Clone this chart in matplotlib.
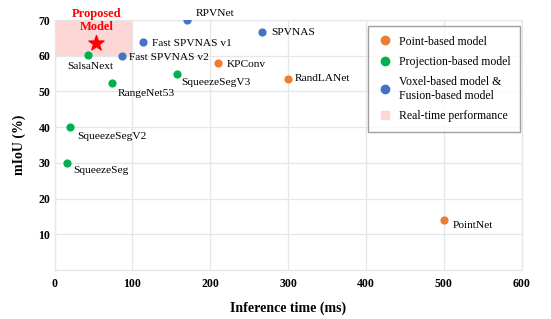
import matplotlib
matplotlib.use("Agg")
import matplotlib.pyplot as plt
from matplotlib.patches import Rectangle
from matplotlib.lines import Line2D

plt.rcParams['font.family'] = ['Liberation Serif', 'DejaVu Serif']

point_names = ["PointNet", "RandLANet", "KPConv"]
point_x = [500, 300, 210]
point_y = [14.0, 53.6, 57.9]

proj_names = ["SalsaNext", "RangeNet53", "SqueezeSegV3", "SqueezeSegV2", "SqueezeSeg"]
proj_x = [42.7, 73.7, 157.6, 20, 16.3]
proj_y = [60.2, 52.5, 54.9, 40.1, 30.0]

vox_names = ["RPVNet", "SPVNAS", "Fast SPVNAS v1", "Fast SPVNAS v2"]
vox_x = [170, 267, 114, 86.5]
vox_y = [70.0, 66.8, 63.8, 60.0]

proposed_x = [53.8]
proposed_y = [63.5]

xticks = [0, 100, 200, 300, 400, 500, 600]
yticks = [10, 20, 30, 40, 50, 60, 70]

c_point = "#ED7D31"
c_proj = "#00B050"
c_vox = "#4472C4"
c_rt = "#fdd6d6"

fig = plt.figure(figsize=(5.51, 3.19), dpi=100)
ax = fig.add_axes([0.099, 0.154, 0.848, 0.783])
ax.set_xlim(0, 600)
ax.set_ylim(0, 70)

ax.add_patch(Rectangle((0, 60), 100, 10, facecolor=c_rt, edgecolor="none", zorder=1))

ax.scatter(point_x, point_y, s=24, color=c_point, zorder=3)
ax.scatter(proj_x, proj_y, s=24, color=c_proj, zorder=3)
ax.scatter(vox_x, vox_y, s=24, color=c_vox, zorder=3)
ax.scatter(proposed_x, proposed_y, s=130, marker="*", color="red", zorder=4)

fs = 8.2
# label offsets in points
offsets = {
    "PointNet": (6, -4, "left", "center"),
    "RandLANet": (5, 0, "left", "center"),
    "KPConv": (6, -1, "left", "center"),
    "SalsaNext": (-15, -5, "left", "top"),
    "RangeNet53": (4, -5, "left", "top"),
    "SqueezeSegV3": (3, -3, "left", "top"),
    "SqueezeSegV2": (5, -3.5, "left", "top"),
    "SqueezeSeg": (4, -2, "left", "top"),
    "RPVNet": (6, 5, "left", "center"),
    "SPVNAS": (6, -1, "left", "center"),
    "Fast SPVNAS v1": (6, -1, "left", "center"),
    "Fast SPVNAS v2": (5, -1, "left", "center"),
}
for names, xs, ys in [(point_names, point_x, point_y), (proj_names, proj_x, proj_y), (vox_names, vox_x, vox_y)]:
    for n, x, y in zip(names, xs, ys):
        dx, dy, ha, va = offsets[n]
        ax.annotate(n, (x, y), xytext=(dx, dy), textcoords="offset points",
                    fontsize=fs, ha=ha, va=va, zorder=5)

ax.annotate("Proposed\nModel", (proposed_x[0], proposed_y[0]), xytext=(0, 7.5),
            textcoords="offset points", ha="center", va="bottom", color="red",
            fontweight="bold", fontsize=9, linespacing=1.1, annotation_clip=False)

ax.set_xticks(xticks)
ax.set_yticks(yticks)
for lab in ax.get_xticklabels() + ax.get_yticklabels():
    lab.set_fontweight("bold")
    lab.set_fontsize(8.5)
ax.tick_params(axis="x", length=0, pad=6)
ax.tick_params(axis="y", length=0, pad=3)
ax.grid(True, color="#e6e6e6", linewidth=0.9, zorder=0)
ax.set_axisbelow(True)
for s in ax.spines.values():
    s.set_color("#e6e6e6")
    s.set_linewidth(0.9)

ax.set_xlabel("Inference time (ms)", fontweight="bold", fontsize=10, labelpad=8)
ax.set_ylabel("mIoU (%)", fontweight="bold", fontsize=10, labelpad=9)

handles = [
    Line2D([], [], marker="o", linestyle="none", color=c_point, markersize=6),
    Line2D([], [], marker="o", linestyle="none", color=c_proj, markersize=6),
    Line2D([], [], marker="o", linestyle="none", color=c_vox, markersize=6),
    Line2D([], [], marker="s", linestyle="none", color=c_rt, markersize=6),
]
labels = ["Point-based model", "Projection-based model",
          "Voxel-based model &\nFusion-based model", "Real-time performance"]
leg = ax.legend(handles, labels, loc="upper right", bbox_to_anchor=(0.9957, 0.976),
                borderaxespad=0,
                fontsize=8.5, frameon=True, fancybox=False, edgecolor="#888888",
                handletextpad=0.5, labelspacing=0.7, borderpad=0.8, handlelength=1.3)
leg.get_frame().set_linewidth(1.0)

fig.savefig("out.png", dpi=100)
